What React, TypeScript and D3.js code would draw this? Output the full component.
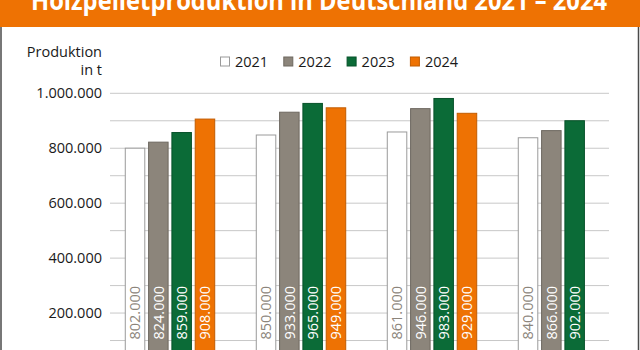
import React, { useRef, useEffect } from 'react';
import * as d3 from 'd3';

// Holzpelletproduktion (t) je Quartal
const categories = ['1. Quartal', '2. Quartal', '3. Quartal', '4. Quartal'];
const years = ['2021', '2022', '2023', '2024'];
const values2021 = [802000, 850000, 861000, 840000];
const values2022 = [824000, 933000, 946000, 866000];
const values2023 = [859000, 965000, 983000, 902000];
const values2024 = [908000, 949000, 929000, null];
const yTicks = [200000, 400000, 600000, 800000, 1000000];
const gridTicks = d3.range(100000, 1000001, 100000);

const seriesValues = [values2021, values2022, values2023, values2024];
const fills = ['#ffffff', '#8c857b', '#0b6b37', '#ee7203'];
const strokes = ['#9a9a9a', '#6e6860', '#07522a', '#c25c00'];
const labelColors = ['#8c857b', '#ffffff', '#ffffff', '#ffffff'];

const fmt = (v: number) => d3.format(',')(v).replace(/,/g, '.');

function App() {
  const ref = useRef<SVGSVGElement>(null);
  const width = 640;
  const height = 350;

  useEffect(() => {
    const svg = d3.select(ref.current);
    svg.selectAll('*').remove();

    const font = "'Open Sans', sans-serif";

    // frame + title band
    svg.append('rect').attr('x', 0).attr('y', 0).attr('width', width).attr('height', height).attr('fill', '#fff');
    svg.append('line').attr('x1', 1).attr('x2', 1).attr('y1', 0).attr('y2', height).attr('stroke', '#4a4a4a').attr('stroke-width', 1.5);
    svg.append('line').attr('x1', 638.5).attr('x2', 638.5).attr('y1', 0).attr('y2', height).attr('stroke', '#4a4a4a').attr('stroke-width', 1.5);
    svg.append('rect').attr('x', 0).attr('y', 0).attr('width', width).attr('height', 27).attr('fill', '#ee7203');
    svg.append('text')
      .attr('x', 31).attr('y', 10)
      .attr('textLength', 576)
      .attr('lengthAdjust', 'spacingAndGlyphs')
      .attr('fill', '#fff')
      .style('font-family', font)
      .style('font-weight', 700)
      .style('font-size', '26px')
      .text('Holzpelletproduktion in Deutschland 2021 – 2024');

    const y = d3.scaleLinear().domain([0, 1000000]).range([368, 93.3]);
    const x0 = d3.scaleBand().domain(categories).range([104.5, 628.5]);
    const x1 = d3.scaleBand().domain(years).range([0, x0.bandwidth()]).paddingInner(0.12).paddingOuter(0.87);

    // gridlines
    svg.append('g')
      .selectAll('line')
      .data(gridTicks)
      .join('line')
      .attr('x1', 110).attr('x2', 609)
      .attr('y1', d => y(d)).attr('y2', d => y(d))
      .attr('stroke', '#c8c8c8').attr('stroke-width', 1);

    // y labels
    svg.append('g')
      .selectAll('text')
      .data(yTicks)
      .join('text')
      .attr('x', 102).attr('y', d => y(d))
      .attr('dy', '0.35em')
      .attr('text-anchor', 'end')
      .attr('fill', '#1a1a1a')
      .style('font-family', font)
      .style('font-size', '14.5px')
      .text(d => fmt(d));

    svg.append('text').attr('x', 102).attr('y', 52).attr('dy', '0.35em').attr('text-anchor', 'end')
      .attr('fill', '#1a1a1a').style('font-family', font).style('font-size', '14.5px').text('Produktion');
    svg.append('text').attr('x', 102).attr('y', 70).attr('dy', '0.35em').attr('text-anchor', 'end')
      .attr('fill', '#1a1a1a').style('font-family', font).style('font-size', '14.5px').text('in t');

    // legend
    const legend = svg.append('g')
      .selectAll('g')
      .data(years)
      .join('g')
      .attr('transform', (d, i) => `translate(${220 + i * 63.3},56.5)`);
    legend.append('rect')
      .attr('x', 0.5).attr('y', 0.5).attr('width', 9).attr('height', 9)
      .attr('fill', (d, i) => fills[i]).attr('stroke', (d, i) => strokes[i]);
    legend.append('text')
      .attr('x', 15).attr('y', 5).attr('dy', '0.35em')
      .attr('fill', '#1a1a1a')
      .style('font-family', font)
      .style('font-size', '14.5px')
      .text(d => d);

    // bars
    const bars: { cat: string; yi: number; value: number }[] = [];
    categories.forEach((c, ci) => {
      seriesValues.forEach((s, yi) => {
        const v = s[ci];
        if (v != null) bars.push({ cat: c, yi, value: v });
      });
    });

    const g = svg.append('g');
    g.selectAll('rect')
      .data(bars)
      .join('rect')
      .attr('x', d => x0(d.cat)! + x1(years[d.yi])! + 0.5)
      .attr('y', d => y(d.value) + 0.5)
      .attr('width', x1.bandwidth() - 1)
      .attr('height', d => y(0) - y(d.value))
      .attr('fill', d => fills[d.yi])
      .attr('stroke', d => strokes[d.yi])
      .attr('stroke-width', 1);

    g.selectAll('text')
      .data(bars)
      .join('text')
      .attr('transform', d => `translate(${x0(d.cat)! + x1(years[d.yi])! + x1.bandwidth() / 2},${y(0) - 28.5}) rotate(-90)`)
      .attr('dy', '0.36em')
      .attr('fill', d => labelColors[d.yi])
      .style('font-family', font)
      .style('font-size', '14.5px')
      .text(d => fmt(d.value));
  }, []);

  return (
    <svg ref={ref} width={width} height={height}
      style={{ position: 'absolute', left: 0, top: 0, display: 'block' }} />
  );
}

export default App;
